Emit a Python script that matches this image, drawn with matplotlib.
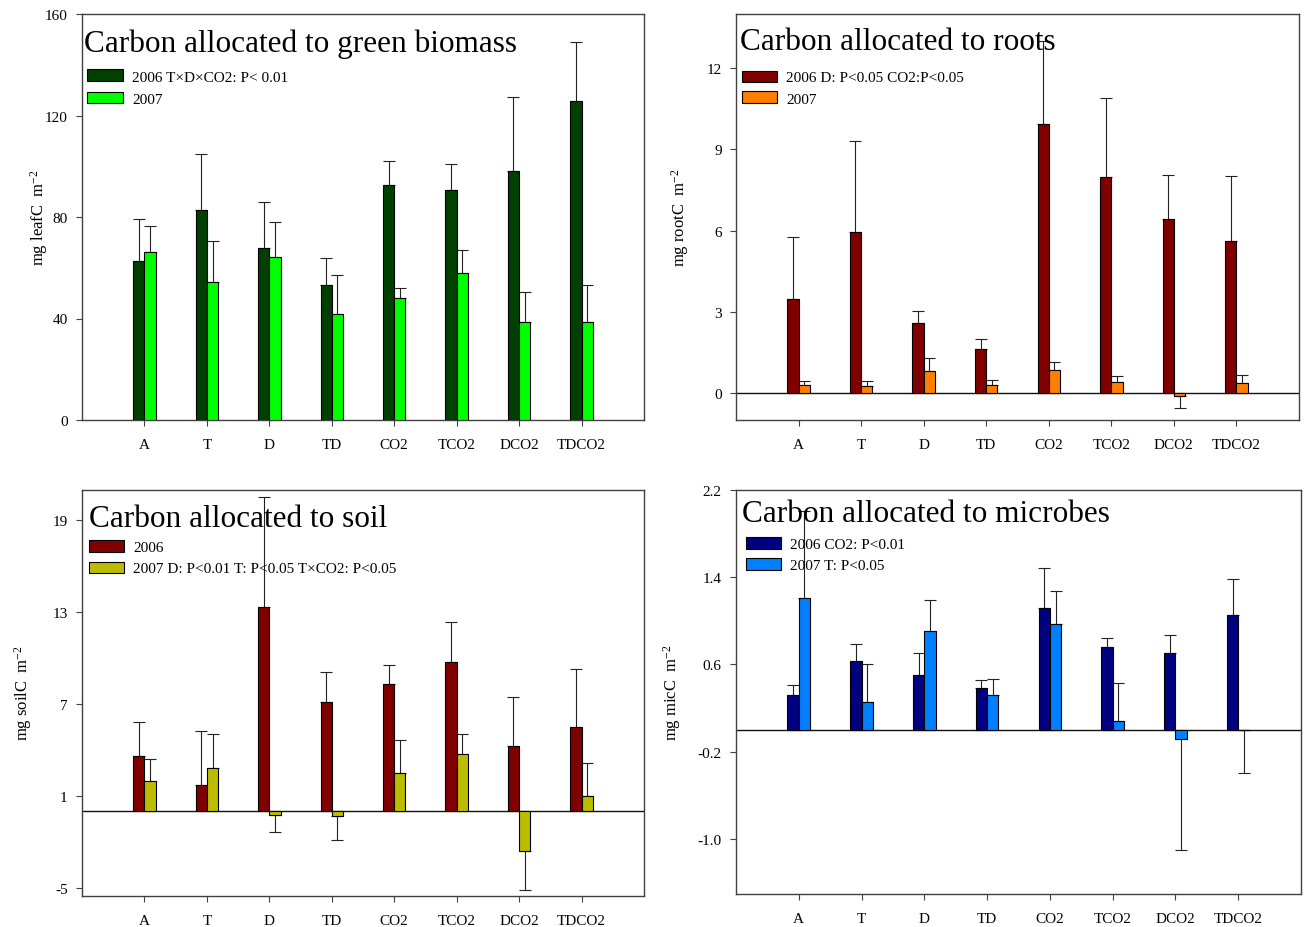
import numpy as np
import matplotlib
matplotlib.use("Agg")
import matplotlib.pyplot as plt
from matplotlib.patches import Rectangle

plt.rcParams['font.family'] = ['Liberation Serif', 'DejaVu Serif']
plt.rcParams['mathtext.fontset'] = 'custom'
plt.rcParams['mathtext.rm'] = 'Liberation Serif'
plt.rcParams['mathtext.default'] = 'regular'

W, H = 1309, 928

categories = ["A", "T", "D", "TD", "CO2", "TCO2", "DCO2", "TDCO2"]

# Panel 1: green biomass
leaf_2006 = [62.8, 82.6, 67.8, 53.2, 92.5, 90.8, 98.2, 125.9]
leaf_2006_se = [16.3, 22.4, 18.1, 10.8, 9.5, 10.1, 29.0, 22.9]
leaf_2007 = [66.1, 54.5, 64.4, 41.8, 48.2, 57.8, 38.8, 38.5]
leaf_2007_se = [10.2, 16.1, 13.7, 15.4, 4.0, 9.1, 11.8, 14.7]

# Panel 2: roots
root_2006 = [3.48, 5.96, 2.59, 1.64, 9.94, 7.98, 6.44, 5.61]
root_2006_se = [2.27, 3.34, 0.43, 0.35, 3.06, 2.93, 1.60, 2.41]
root_2007 = [0.31, 0.26, 0.80, 0.30, 0.84, 0.41, -0.11, 0.36]
root_2007_se = [0.12, 0.17, 0.49, 0.17, 0.32, 0.22, 0.44, 0.32]

# Panel 3: soil
soil_2006 = [3.61, 1.70, 13.36, 7.12, 8.31, 9.73, 4.26, 5.48]
soil_2006_se = [2.20, 3.52, 7.16, 1.95, 1.22, 2.59, 3.18, 3.79]
soil_2007 = [1.96, 2.85, -0.24, -0.30, 2.52, 3.76, -2.57, 1.00]
soil_2007_se = [1.48, 2.22, 1.11, 1.57, 2.14, 1.27, 2.57, 2.18]

# Panel 4: microbes
mic_2006 = [0.32, 0.63, 0.50, 0.38, 1.12, 0.76, 0.70, 1.05]
mic_2006_se = [0.09, 0.16, 0.20, 0.08, 0.36, 0.08, 0.17, 0.33]
mic_2007 = [1.21, 0.26, 0.91, 0.32, 0.97, 0.085, -0.08, 0.0]
mic_2007_se = [0.79, 0.34, 0.28, 0.15, 0.30, 0.345, 1.02, 0.395]

panels = [
    dict(box=(82, 15, 644, 421), title="Carbon allocated to green biomass",
         title_xy=(84, 52), ylabel="mg leafC  m$^{-2}$", ylab_x=39,
         ylim=(0, 160), yticks=[0, 40, 80, 120, 160], fmt="{:.0f}",
         s1=leaf_2006, e1=leaf_2006_se, s2=leaf_2007, e2=leaf_2007_se,
         c1="#004000", c2="#00ff00",
         labels=["2006 T\u00d7D\u00d7CO2: P< 0.01", "2007"],
         leg=(87, 123, [(70, 82), (93, 104)], 132), zero=False),
    dict(box=(736, 15, 1299, 421), title="Carbon allocated to roots",
         title_xy=(740, 50), ylabel="mg rootC  m$^{-2}$", ylab_x=680,
         ylim=(-1, 14), yticks=[0, 3, 6, 9, 12], fmt="{:.0f}",
         s1=root_2006, e1=root_2006_se, s2=root_2007, e2=root_2007_se,
         c1="#800000", c2="#ff8000",
         labels=["2006 D: P<0.05 CO2:P<0.05", "2007"],
         leg=(742, 777, [(72, 83), (92, 104)], 786), zero=True),
    dict(box=(82, 490.5, 644, 896.5), title="Carbon allocated to soil",
         title_xy=(89, 527), ylabel="mg soilC  m$^{-2}$", ylab_x=23,
         ylim=(-5.5, 21), yticks=[-5, 1, 7, 13, 19], fmt="{:.0f}",
         s1=soil_2006, e1=soil_2006_se, s2=soil_2007, e2=soil_2007_se,
         c1="#800000", c2="#bcbc00",
         labels=["2006", "2007 D: P<0.01 T: P<0.05 T\u00d7CO2: P<0.05"],
         leg=(89, 124, [(541, 553), (563, 574)], 133), zero=True),
    dict(box=(736, 490.5, 1301, 895), title="Carbon allocated to microbes",
         title_xy=(742, 522), ylabel="mg micC  m$^{-2}$", ylab_x=672,
         ylim=(-1.5, 2.2), yticks=[-1.0, -0.2, 0.6, 1.4, 2.2], fmt="{:.1f}",
         s1=mic_2006, e1=mic_2006_se, s2=mic_2007, e2=mic_2007_se,
         c1="#000080", c2="#0080ff",
         labels=["2006 CO2: P<0.01", "2007 T: P<0.05"],
         leg=(746, 781, [(538, 550), (559, 571)], 790), zero=True),
]

fig = plt.figure(figsize=(W / 100, H / 100), dpi=100)

def fx(x):
    return x / W

def fy(y):
    return 1 - y / H

bw = 0.18
x = np.arange(len(categories))
frame_col = "#404040"

for p in panels:
    l, t, r, b = p["box"]
    ax = fig.add_axes([fx(l), fy(b), (r - l) / W, (b - t) / H])
    ax.set_xlim(-1, 8)
    ax.set_ylim(*p["ylim"])
    for sp in ax.spines.values():
        sp.set_color(frame_col)
        sp.set_linewidth(1.0)
    if p["zero"]:
        ax.axhline(0, color="#111111", lw=1.0, zorder=1)

    for vals, ses, col, off in [(p["s1"], p["e1"], p["c1"], -bw / 2),
                                 (p["s2"], p["e2"], p["c2"], bw / 2)]:
        vals = np.array(vals)
        ses = np.array(ses)
        pos = x + off
        ax.bar(pos, vals, width=bw, color=col, edgecolor="black",
               linewidth=0.8, zorder=3)
        lower = np.where(vals <= 0, ses, 0)
        upper = np.where(vals > 0, ses, 0)
        ax.errorbar(pos, vals, yerr=[lower, upper], fmt="none",
                    ecolor="#222222", elinewidth=0.8, capsize=4.1,
                    capthick=0.8, zorder=2)

    ax.set_xticks(x)
    ax.set_xticklabels(categories, fontsize=11)
    ax.set_yticks(p["yticks"])
    ax.set_yticklabels([p["fmt"].format(v) for v in p["yticks"]], fontsize=11)
    ax.tick_params(axis="both", direction="out", length=4.3, width=0.8,
                   color=frame_col, pad=6)
    ax.tick_params(axis="x", pad=9)
    ax.set_ylabel(p["ylabel"], fontsize=12, va="center")
    ax.yaxis.set_label_coords((p["ylab_x"] - l) / (r - l), 0.5)

    # title
    fig.text(fx(p["title_xy"][0]), fy(p["title_xy"][1]), p["title"],
             fontsize=22.5, ha="left", va="baseline", zorder=10)

    # legend
    lx0, lx1, rows, tx = p["leg"]
    for (y0, y1), col, lab in zip(rows, [p["c1"], p["c2"]], p["labels"]):
        fig.patches.append(Rectangle((fx(lx0), fy(y1)), (lx1 - lx0) / W,
                                     (y1 - y0) / H, transform=fig.transFigure,
                                     facecolor=col, edgecolor="black",
                                     linewidth=0.8, zorder=10))
        fig.text(fx(tx), fy(y1 - 0.5), lab, fontsize=11, ha="left",
                 va="baseline", zorder=10)

fig.savefig("out.png", dpi=100)
